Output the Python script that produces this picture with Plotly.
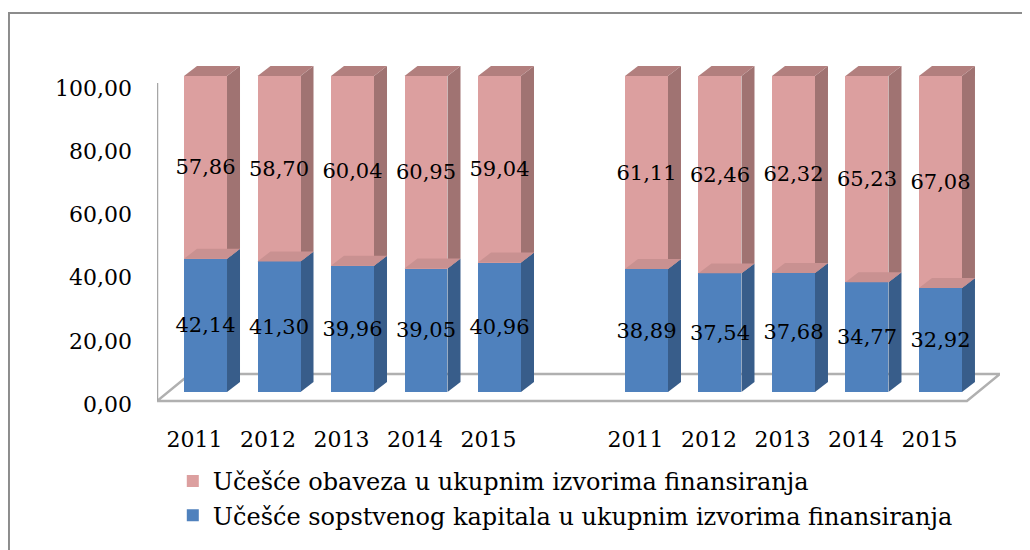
import plotly.graph_objects as go

# --- data ---
years = ["2011", "2012", "2013", "2014", "2015"]
kapital_a = [42.14, 41.30, 39.96, 39.05, 40.96]
obaveze_a = [57.86, 58.70, 60.04, 60.95, 59.04]
kapital_b = [38.89, 37.54, 37.68, 34.77, 32.92]
obaveze_b = [61.11, 62.46, 62.32, 65.23, 67.08]
name_obaveze = "Učešće obaveza u ukupnim izvorima finansiranja"
name_kapital = "Učešće sopstvenog kapitala u ukupnim izvorima finansiranja"

FONT = "DejaVu Serif"
BLUE, BLUE_SIDE = "#4F81BD", "#385D8A"
PINK, PINK_SIDE, PINK_TOP, PINK_JOIN = "#DC9F9F", "#A07372", "#B27F7E", "#C99191"

labels = years + years
pos = list(range(5)) + [i + 6 for i in range(5)]
kapital = kapital_a + kapital_b
obaveze = obaveze_a + obaveze_b

W = 0.585          # bar width (x units)
DX, DY = 0.177, 3.16   # 3d depth offset in data units

fig = go.Figure()
common = dict(x=pos, width=W, texttemplate="%{y:.2f}", textposition="inside",
              insidetextanchor="middle", constraintext="none", textangle=0,
              textfont=dict(family=FONT, size=21, color="black"), hoverinfo="skip")
fig.add_trace(go.Bar(y=kapital, name=name_kapital, marker=dict(color=BLUE, line=dict(width=0)),
                     legendgroup="a", **common))
fig.add_trace(go.Bar(y=obaveze, name=name_obaveze, marker=dict(color=PINK, line=dict(width=0)),
                     legendgroup="b", **common))

def poly(pts):
    return "M " + " L ".join(f"{x},{y}" for x, y in pts) + " Z"

shapes = []
# outer chart border
shapes.append(dict(type="rect", xref="paper", yref="paper", x0=-0.1756, x1=1.08, y0=1.071, y1=-0.45,
                   line=dict(color="#8c8c8c", width=2), fillcolor="rgba(0,0,0,0)", layer="below"))
# floor
fl = [(-0.66, -2.85), (10.36, -2.85), (10.81, 5.7), (-0.21, 5.7)]
shapes.append(dict(type="path", xref="x", yref="y", path=poly(fl), fillcolor="white",
                   line=dict(color="#b0b0b0", width=2.5), layer="below"))
# vertical axis line
shapes.append(dict(type="line", xref="x", yref="y", x0=-0.66, x1=-0.66, y0=-2.85, y1=97.8,
                   line=dict(color="#a6a6a6", width=2.5), layer="below"))

for p, b, k in zip(pos, kapital, obaveze):
    l, r = p - W / 2, p + W / 2
    t = b + k
    shapes.append(dict(type="path", xref="x", yref="y", line=dict(width=0), fillcolor=BLUE_SIDE,
                       layer="below", path=poly([(r, 0), (r + DX, DY), (r + DX, b + DY), (r, b)])))
    shapes.append(dict(type="path", xref="x", yref="y", line=dict(width=0), fillcolor=PINK_SIDE,
                       layer="below", path=poly([(r, b), (r + DX, b + DY), (r + DX, t + DY), (r, t)])))
    shapes.append(dict(type="path", xref="x", yref="y", line=dict(width=0), fillcolor=PINK_TOP,
                       layer="below", path=poly([(l, t), (l + DX, t + DY), (r + DX, t + DY), (r, t)])))
    shapes.append(dict(type="path", xref="x", yref="y", line=dict(width=0), fillcolor=PINK_JOIN,
                       layer="above", path=poly([(l, b), (l + DX, b + DY), (r + DX, b + DY), (r, b)])))

fig.update_layout(
    width=1030, height=550, barmode="stack", separators=", ",
    paper_bgcolor="white", plot_bgcolor="rgba(0,0,0,0)",
    margin=dict(l=149, r=38, t=32, b=138, autoexpand=False),
    font=dict(family=FONT, size=21, color="black"),
    shapes=shapes,
    xaxis=dict(range=[-0.66, 10.81], tickvals=pos, ticktext=labels, showgrid=False, zeroline=False,
               showline=False, ticks="", ticklabelshift=-11, ticklabelstandoff=4, automargin=False,
               tickfont=dict(size=22)),
    yaxis=dict(range=[-8.86, 111.39], tickvals=[0, 20, 40, 60, 80, 100], tickformat=".2f",
               showgrid=False, zeroline=False, showline=False, ticks="", ticklabelshift=12,
               ticklabelstandoff=24, automargin=False, tickfont=dict(size=22)),
    legend=dict(xref="container", yref="container", x=0.16, y=0.18, xanchor="left", yanchor="top",
                traceorder="reversed", tracegroupgap=26, font=dict(size=24), bgcolor="rgba(0,0,0,0)"),
    showlegend=True,
)

fig.write_html("out.html")
